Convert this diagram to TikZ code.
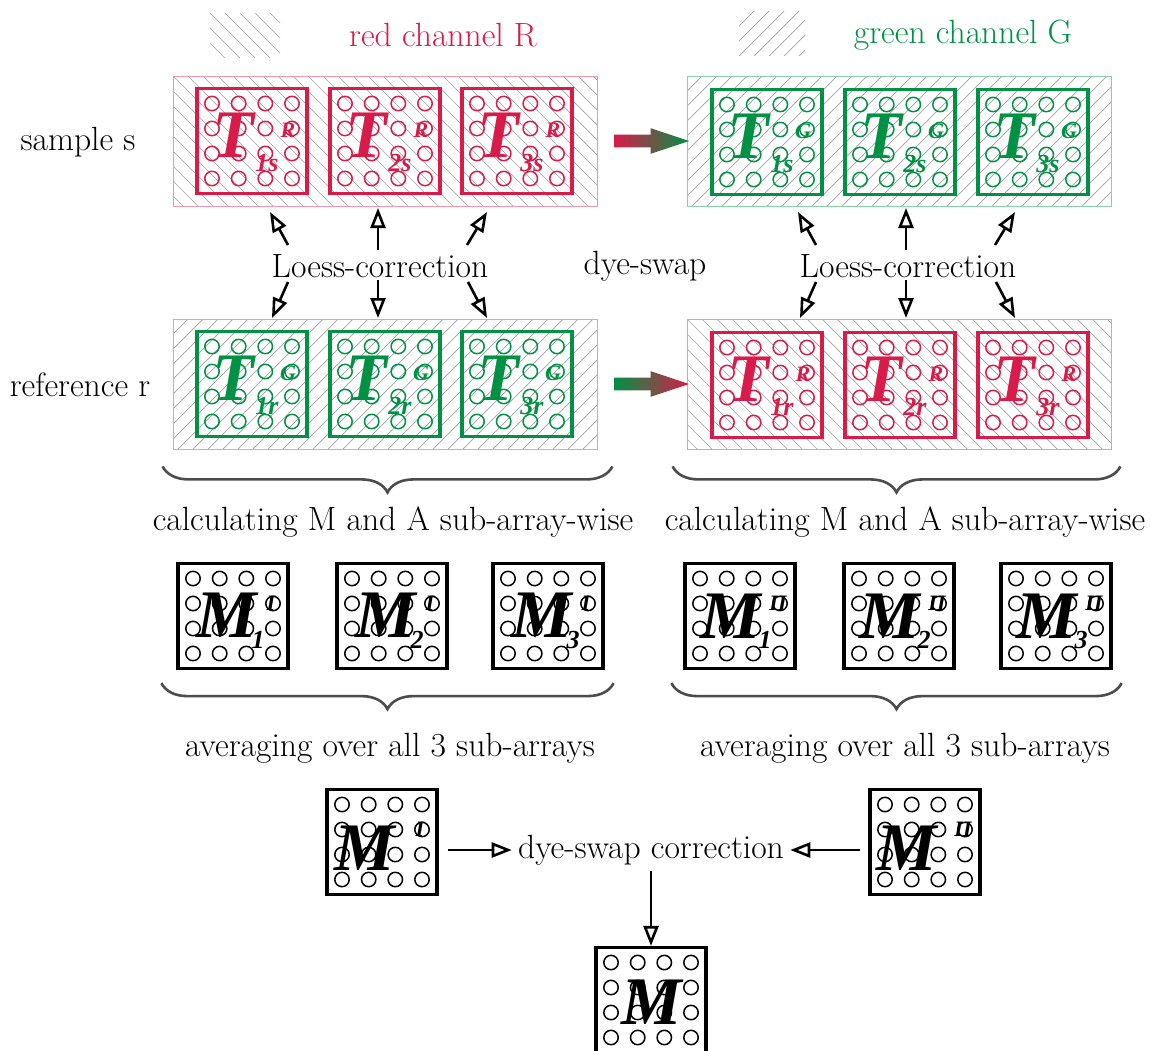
\documentclass[tikz,border=0pt]{standalone}
\usepackage{fontspec}
\usepackage{tikz}
\usetikzlibrary{arrows.meta,positioning,calc,shapes.arrows,decorations.pathreplacing}
\newfontfamily\tilefont{Liberation Serif}
\definecolor{chred}{RGB}{216,27,72}
\definecolor{chgreen}{RGB}{0,145,68}

\tikzset{
  txt/.style={font=\fontsize{16.8}{19}\selectfont, inner sep=3pt},
  panel/.style={draw, line width=0.4pt, minimum width=212pt, minimum height=65pt, inner sep=0pt},
  hatchdown/.style={path picture={
      \foreach \k in {-150,-135,...,440}
        \draw[gray!75, line width=0.35pt] ($(path picture bounding box.north west)+(\k,0)$) -- ++(150,150);}},
  hatchup/.style={path picture={
      \foreach \k in {0,15,...,590}
        \draw[gray!75, line width=0.35pt] ($(path picture bounding box.north west)+(\k,0)$) -- ++(-150,150);}},
  tile/.style={draw, line width=1.75pt, minimum width=55pt, minimum height=52.5pt, inner sep=0pt},
  bigT/.style={font=\tilefont\fontsize{34}{34}\bfseries\itshape\selectfont, inner sep=0pt},
  bigM/.style={font=\tilefont\fontsize{34}{34}\bfseries\itshape\selectfont, inner sep=0pt},
  idx/.style={font=\tilefont\fontsize{13}{13}\bfseries\itshape\selectfont, inner sep=0pt},
  chan/.style={font=\tilefont\fontsize{11}{11}\bfseries\itshape\selectfont, inner sep=0pt},
  hollow/.style={line width=1.3pt, -{Triangle[open, length=10pt, width=7.5pt]}},
  swaparrow/.style={single arrow, minimum height=37.5pt, minimum width=12.5pt, inner sep=3pt,
      single arrow head extend=3.25pt, single arrow tip angle=37},
  curly/.style={decorate, decoration={brace, mirror, amplitude=13pt}, line width=1.3pt, black!70},
}

% 4x4 spots on a tile
\newcommand{\spots}[2]{%
  \foreach \gx in {-40,-13.3,13.3,40}
    \foreach \gy in {-37.5,-12.5,12.5,37.5}
      \draw[#2, line width=0.75pt] ($(#1)+(\gx,\gy)$) circle[radius=3.6pt];
}
% name, x, y, colour, index, channel
\newcommand{\ttile}[6]{%
  \node[tile, draw=#4] (#1) at (#2,#3) {};
  \node[bigT, text=#4] (#1-T) at ($(#1)+(-19,-6)$) {T};
  \node[idx, text=#4] (#1-i) at ($(#1)+(15,22)$) {#5};
  \node[chan, text=#4] (#1-c) at ($(#1)+(36,-11)$) {#6};
  \spots{#1}{#4}
}
% name, x, y, M shift x, M shift y, index, dye
\newcommand{\mtile}[7]{%
  \node[tile, line width=1.6pt] (#1) at (#2,#3) {};
  \node[bigM] (#1-M) at ($(#1)+(#4,#5)$) {M};
  \node[idx] (#1-i) at ($(#1)+(25,24)$) {#6};
  \node[chan] (#1-c) at ($(#1)+(38,-13)$) {#7};
  \spots{#1}{black}
}

\begin{document}
\begin{tikzpicture}[x=0.5pt, y=-0.5pt]
  \useasboundingbox (0,0) rectangle (1150,1050);

  % channel keys
  \node[hatchdown, minimum width=35pt, minimum height=22pt, inner sep=0pt] (keyR) at (245,35) {};
  \node[txt, text=chred] (keyRtxt) at (443,35) {red channel R};
  \node[hatchup, minimum width=33pt, minimum height=22pt, inner sep=0pt] (keyG) at (772,33) {};
  \node[txt, text=chgreen] (keyGtxt) at (963,35) {green channel G};

  % hybridisation panels
  \node[panel, draw=chred!45, hatchdown] (sR) at (385,141) {};
  \node[panel, draw=chgreen!45, hatchup] (sG) at (899,141) {};
  \node[panel, draw=chgreen!45, hatchup] (rG) at (385,384) {};
  \node[panel, draw=chred!45, hatchdown] (rR) at (899,384) {};

  \node[txt] (rowS) at (78,142) {sample s};
  \node[txt] (rowR) at (80,385) {reference r};

  \ttile{t1s}{252}{141}{chred}{1s}{R}
  \ttile{t2s}{385}{141}{chred}{2s}{R}
  \ttile{t3s}{517}{141}{chred}{3s}{R}
  \ttile{g1s}{767}{142}{chgreen}{1s}{G}
  \ttile{g2s}{900}{142}{chgreen}{2s}{G}
  \ttile{g3s}{1033}{142}{chgreen}{3s}{G}
  \ttile{g1r}{252}{384}{chgreen}{1r}{G}
  \ttile{g2r}{385}{384}{chgreen}{2r}{G}
  \ttile{g3r}{517}{384}{chgreen}{3r}{G}
  \ttile{t1r}{767}{385}{chred}{1r}{R}
  \ttile{t2r}{900}{385}{chred}{2r}{R}
  \ttile{t3r}{1033}{385}{chred}{3r}{R}

  % dye-swap arrows
  \node[swaparrow, left color=chred, right color=chgreen] (swapS) at ($(sR.east)!0.5!(sG.west)$) {};
  \node[swaparrow, left color=chgreen, right color=chred] (swapR) at ($(rG.east)!0.5!(rR.west)$) {};

  \node[txt] (loessL) at (380,266) {Loess-correction};
  \node[txt] (dyeswap) at (645,266) {dye-swap};
  \node[txt] (loessR) at (908,266) {Loess-correction};

  \foreach \n in {loessL,loessR}
    \foreach \tx/\ty/\hx/\hy in {-92/-21/-110/-54, -2/-16/-2/-58, 87/-21/107/-54,
                                 -92/16/-108/52, -2/14/-2/52, 88/16/107/52}
      \draw[hollow] ($(\n)+(\tx,\ty)$) -- ($(\n)+(\hx,\hy)$);

  % M and A per sub-array
  \draw[curly] ($(rG.south west)+(-10,17)$) -- ($(rG.south east)+(15,17)$);
  \draw[curly] ($(rR.south west)+(-14,17)$) -- ($(rR.south east)+(9,17)$);
  \node[txt] (calcL) at (393,522) {calculating M and A sub-array-wise};
  \node[txt] (calcR) at (905,522) {calculating M and A sub-array-wise};

  \mtile{mI1}{233}{616}{-6}{-1}{1}{I}
  \mtile{mI2}{392}{616}{-6}{-1}{2}{I}
  \mtile{mI3}{548}{616}{-6}{-1}{3}{I}
  \mtile{mII1}{740}{616}{-9}{0}{1}{II}
  \mtile{mII2}{899}{616}{-9}{0}{2}{II}
  \mtile{mII3}{1056}{616}{-9}{0}{3}{II}

  \draw[curly] ($(mI1.south west)+(-15,13)$) -- ($(mI3.south east)+(9,13)$);
  \draw[curly] ($(mII1.south west)+(-12,13)$) -- ($(mII3.south east)+(9,13)$);
  \node[txt] (avgL) at (390,748) {averaging over all 3 sub-arrays};
  \node[txt] (avgR) at (905,748) {averaging over all 3 sub-arrays};

  % averaged ratios and the final one
  \mtile{mI}{382}{842}{-17}{6}{}{I}
  \mtile{mII}{925}{842}{-18}{6}{}{II}
  \mtile{mfin}{651}{1000}{1}{2}{}{}

  \node[txt] (corr) at (651,850) {dye-swap correction};
  \draw[hollow] ($(mI.east)+(9,8)$) -- (corr);
  \draw[hollow] ($(mII.west)+(-8,8)$) -- (corr);
  \draw[hollow] (corr) -- (mfin);
\end{tikzpicture}
\end{document}
